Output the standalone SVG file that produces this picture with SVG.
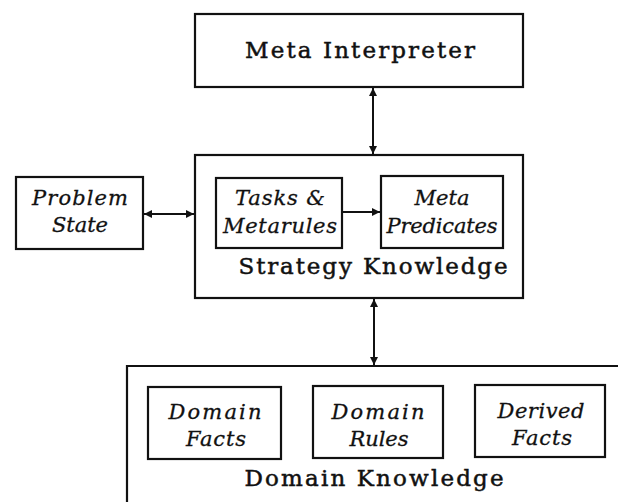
<svg xmlns="http://www.w3.org/2000/svg" width="618" height="502" viewBox="0 0 618 502">
<style>
.box{fill:none;stroke:#111;stroke-width:2.2}
.lbl{font-family:"DejaVu Serif","Liberation Serif",serif;font-size:23px;fill:#111;stroke:#111;stroke-width:0.5;text-anchor:middle}
.it{font-family:"DejaVu Serif","Liberation Serif",serif;font-size:21px;font-style:italic;fill:#111;stroke:#111;stroke-width:0.3;text-anchor:middle}
.con{stroke:#111;stroke-width:2;fill:none}
</style>
<defs>
<marker id="ah" viewBox="0 0 10 10" refX="10" refY="5" markerWidth="4" markerHeight="4" orient="auto-start-reverse" markerUnits="strokeWidth">
<path d="M0,0 L10,5 L0,10 z" fill="#111"/>
</marker>
</defs>
<rect width="618" height="502" fill="#fff"/>
<g id="meta-interpreter">
<rect class="box" x="195" y="14" width="328" height="73"/>
<text class="lbl" x="360" y="58" textLength="230" lengthAdjust="spacing">Meta Interpreter</text>
</g>
<g id="strategy-knowledge">
<rect class="box" x="195" y="155" width="328" height="143"/>
<text class="lbl" x="373" y="274" textLength="269" lengthAdjust="spacing">Strategy Knowledge</text>
</g>
<g id="tasks-metarules">
<rect class="box" x="216" y="178" width="126" height="70"/>
<text class="it" x="280" y="205" textLength="90" lengthAdjust="spacing">Tasks &amp;</text>
<text class="it" x="280" y="233" textLength="114" lengthAdjust="spacing">Metarules</text>
</g>
<g id="meta-predicates">
<rect class="box" x="381" y="176" width="122" height="72"/>
<text class="it" x="442" y="205" textLength="55" lengthAdjust="spacing">Meta</text>
<text class="it" x="442" y="233" textLength="111" lengthAdjust="spacing">Predicates</text>
</g>
<g id="problem-state">
<rect class="box" x="16" y="177" width="127" height="72"/>
<text class="it" x="80" y="205" textLength="96" lengthAdjust="spacing">Problem</text>
<text class="it" x="80" y="232" textLength="56" lengthAdjust="spacing">State</text>
</g>
<g id="domain-knowledge">
<path class="box" d="M127,502 V366 H618"/>
<text class="lbl" x="374" y="486" textLength="259" lengthAdjust="spacing">Domain Knowledge</text>
</g>
<g id="domain-facts">
<rect class="box" x="148" y="387" width="133" height="72"/>
<text class="it" x="215" y="419" textLength="93" lengthAdjust="spacing">Domain</text>
<text class="it" x="216" y="446" textLength="60" lengthAdjust="spacing">Facts</text>
</g>
<g id="domain-rules">
<rect class="box" x="313" y="386" width="130" height="72"/>
<text class="it" x="378" y="419" textLength="93" lengthAdjust="spacing">Domain</text>
<text class="it" x="379" y="446" textLength="59" lengthAdjust="spacing">Rules</text>
</g>
<g id="derived-facts">
<rect class="box" x="475" y="385" width="130" height="72"/>
<text class="it" x="541" y="418" textLength="87" lengthAdjust="spacing">Derived</text>
<text class="it" x="542" y="445" textLength="60" lengthAdjust="spacing">Facts</text>
</g>
<g id="connectors">
<line class="con" x1="373" y1="88" x2="373" y2="154" marker-start="url(#ah)" marker-end="url(#ah)"/>
<line class="con" x1="144" y1="214" x2="194" y2="214" marker-start="url(#ah)" marker-end="url(#ah)"/>
<line class="con" x1="343" y1="212" x2="380" y2="212" marker-end="url(#ah)"/>
<line class="con" x1="374" y1="299" x2="374" y2="365" marker-start="url(#ah)" marker-end="url(#ah)"/>
</g>
</svg>
